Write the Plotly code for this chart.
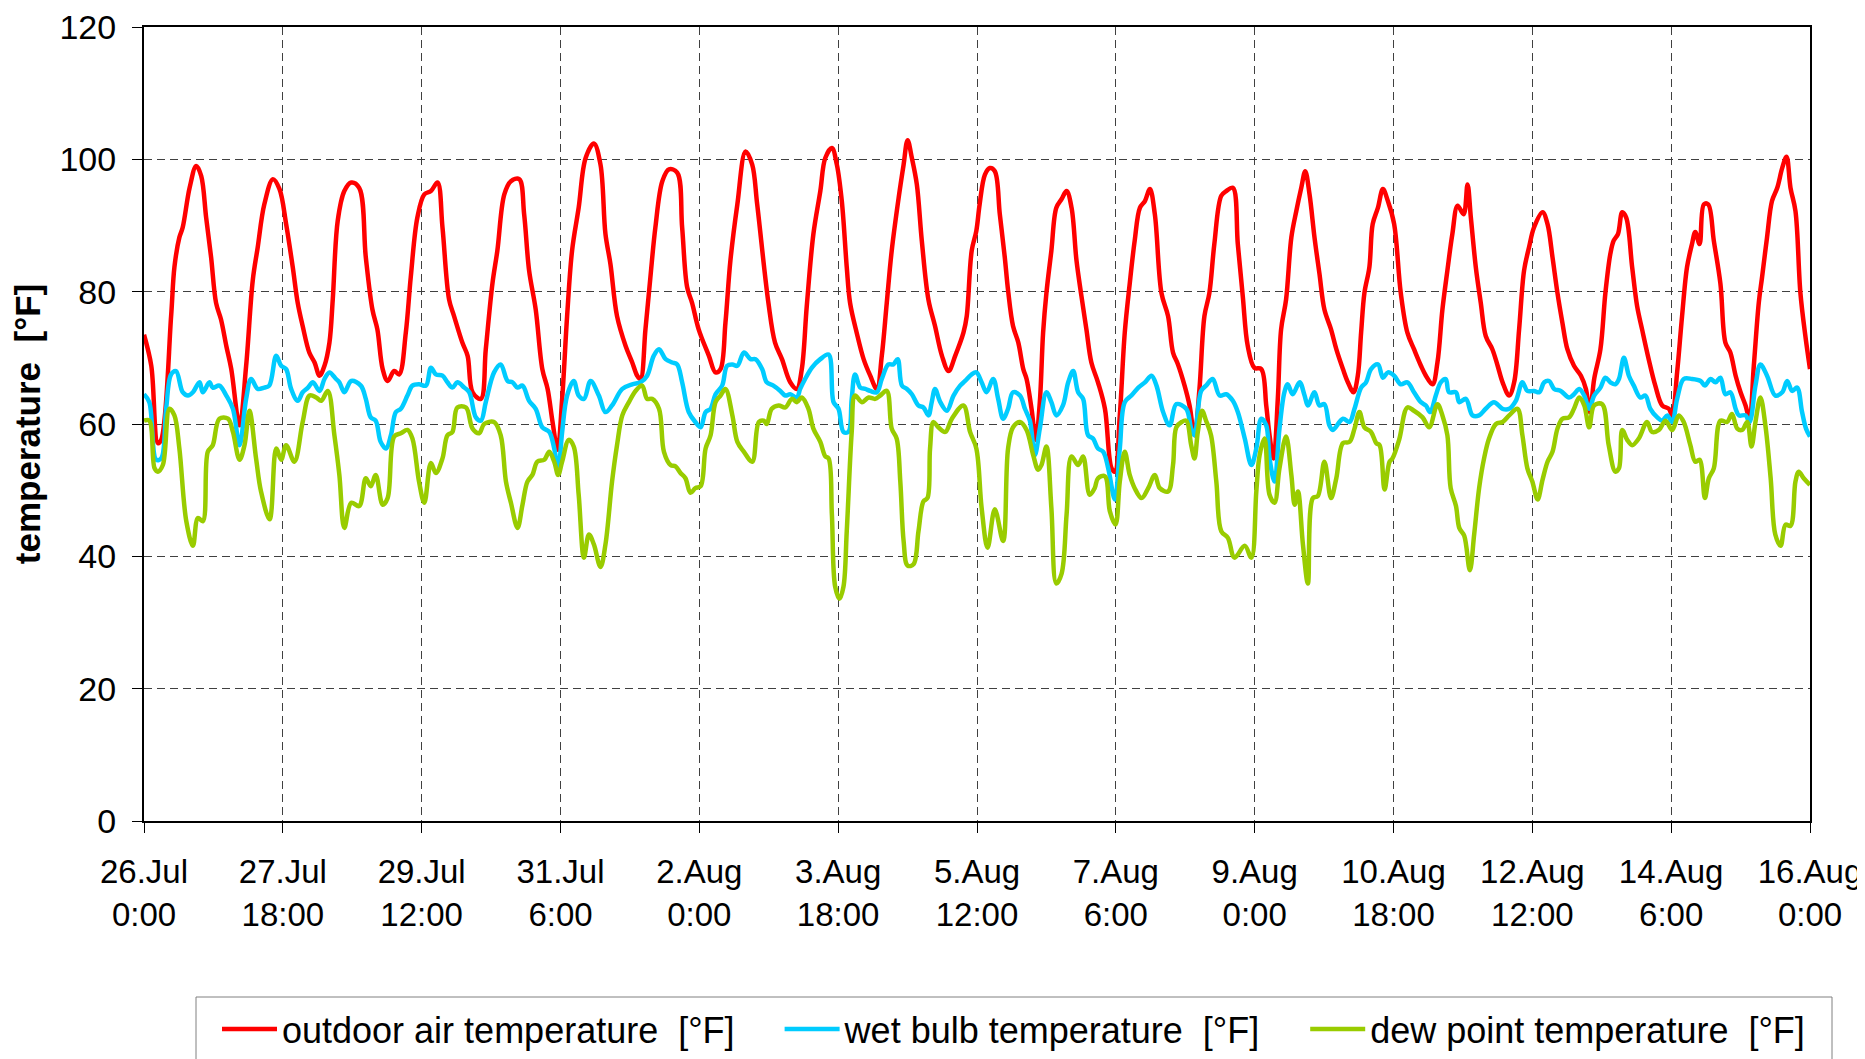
import datetime as dt
import plotly.graph_objects as go

# ---------------- data ----------------
base = dt.datetime(2007, 7, 26, 0, 0)

oat_hours = [0, 2.2, 4.2, 5.2, 8.2, 9.2, 10.7, 11.7, 13.8, 15.8, 17.3, 18.8, 20.3, 21.8, 23.3, 24.9, 26.4, 28.9, 30.9, 32.9, 34.4, 36.4, 39, 41, 43, 45, 46.5, 48, 50, 51.6, 53.1, 54.6, 56.1, 57.1, 58.6, 60.6, 62.7,
             65.1, 67.1, 69.1, 70.6, 72.2, 73.7, 75.7, 77.2, 79.2, 80.7, 82.7, 84.8, 86.8, 88.8, 90.3, 92.3, 93.8, 96.3, 97.9, 99.4, 101.9, 103.4, 105.4, 106.9, 109, 111, 113.5, 115, 116.5, 118.5, 120.5, 122.1, 123.6, 125.1,
             126.5, 128, 129.5, 131.5, 133.6, 136.1, 138.1, 139.6, 141.1, 143.1, 145.7, 147.7, 149.2, 150.2, 151.7, 153.2, 154.7, 156.8, 158.8, 161.3, 162.8, 164.3, 165.8, 167.8, 170.9, 172.9, 174.4, 175.9, 177.4, 179.5, 182, 184, 185.5,
             188.9, 190.9, 193, 195.5, 197.5, 199, 200.5, 202.5, 204.6, 206.1, 208.1, 209.6, 211.1, 212.6, 213.6, 215.6, 217.7, 219.7, 221.7, 223.2, 224.7, 226.2, 228.3, 229.8, 231, 232.3, 233.8, 235.3, 237.3, 239.3, 241.4, 243.4, 245.4, 247.9, 248.9, 250.4,
             251.8, 252.8, 254.4, 255.9, 257.4, 258.9, 260.4, 261.4, 262.9, 264.5, 266, 267, 268.5, 269.8, 271, 272, 273, 274.5, 276, 277.6, 279.1, 280.6, 282.1, 283.6, 285.1, 286.6, 288.6, 290.7, 292.7, 293.7, 295.2, 296.7, 298.2, 299.7, 301.3, 302.8, 304.3, 305.8, 307.8, 309.8, 311.3, 312.8,
             314.8, 316.3, 317.8, 319.3, 320.8, 322.3, 323.8, 325.9, 327.4, 329.4, 330.9, 332.4, 333.9, 335.9, 338, 339.5, 340.5, 341.7, 343, 344, 345.5, 347.1, 348.6, 350.1, 351.3, 352.6, 354.1, 355.6, 357.1, 359.1, 360.7, 362.7, 364.2, 365.9, 367.2, 368.2, 369.2, 370.7, 371.7, 373.3, 374.8, 376.3,
             378.2, 380.2, 382.2, 384.2, 386.3, 387.8, 389.8, 391.3, 392.8, 394.3, 395.8, 397.4, 399.2, 400.4, 401.4, 402.9, 404.4, 405.9, 407.9, 409.5, 411, 413, 414.5, 416, 417.5, 419, 420.5, 423.1, 424.6, 426.1, 427.6, 429.1, 430.6, 432.6, 434.7, 436.2, 437.4, 438.7,
             440.6, 442.1, 443.6, 444.6, 445.9, 447.2, 448.4, 450.2, 451.7, 453.2, 455.2, 457.2, 459.3, 461.3, 462.3, 463.8, 465.3, 466.8, 468.3, 469.3, 470.6, 471.9, 473.2, 474.9, 476.9, 478.4, 479.9, 481.5, 483, 484.5, 485.7, 487, 488.5, 489.5, 491, 492.5, 494.1, 495.6, 496.9, 498.1, 499.6, 501.1, 502.6, 504]
oat_temp = [73.5, 68.8, 57.1, 57.6, 76.3, 83.7, 88.2, 89.7, 95.7, 99, 97.5, 91.2, 85.2, 78.3, 75.8, 71.8, 68.3, 59.8, 68.8, 81.7, 86.7, 93.2, 97, 95.5, 90.2, 83.7, 78.3, 74.8, 70.8, 69.3, 67.3, 68.8, 72.3, 78.8, 90.7, 95.2, 96.5,
            95.7, 85.2, 77.3, 74.3, 68.3, 66.5, 68, 67.5, 73.8, 82.2, 91.2, 94.7, 95.2, 96.5, 89.7, 78.8, 76.3, 72.3, 70.3, 64.8, 63.8, 71.3, 81.2, 86.2, 94.7, 96.7, 97, 91.7, 83.2, 77.3, 68.3, 65.3, 60.3, 56.1,
            63.8, 76.3, 86.2, 92.7, 100.2, 102.4, 99.2, 88.7, 84.2, 76.3, 71.8, 69.3, 67.3, 66.8, 74.3, 82.2, 89.7, 96.7, 98.5, 98, 89.7, 80.7, 78.3, 74.3, 70.3, 67.8, 68.3, 75.3, 84.7, 93.2, 101.2, 99.2, 93.2,
            78.3, 72.3, 69.8, 66.3, 65.3, 68.3, 77.8, 88.7, 95.2, 100.2, 101.7, 99.2, 93.7, 83.7, 78.3, 73.8, 69.8, 67.3, 65.3, 70.3, 78.3, 86.2, 94.2, 99.2, 102.9, 100.2, 96.2, 87.7, 78.8, 74.8, 70.3, 68, 70.3, 73.8, 76.3, 86.2,
            89.2, 93.2, 97.7, 98.7, 98.2, 91.7, 85.2, 80.2, 74.8, 72.3, 68.3, 66.8, 62.3, 57.6, 63.3, 73.8, 79.8, 86.2, 92.7, 94, 95.2, 92.7, 84.7, 79.3, 74.3, 69.3, 66.3, 62.3, 53.3, 52.8, 61.3, 73.8, 81.2, 87.7, 92.7, 93.7, 95.5, 91.7, 79.8, 76.3, 70.8, 69,
            65.8, 62.8, 58.3, 65.3, 76.3, 79.8, 87.2, 94.5, 95.2, 95.7, 87.2, 79.3, 71.8, 68.5, 68.3, 62.8, 58.3, 54.8, 63.8, 74.3, 78.8, 88.2, 92.2, 95.7, 98.2, 94.7, 88.2, 82.7, 77.3, 74.3, 71.3, 68.3, 66.3, 64.8, 67.3, 73.8, 79.8, 83.7, 90.2, 92.7, 95.5, 93.7,
            90.2, 79.8, 73.8, 71.3, 68.8, 67.3, 66, 69.3, 77.3, 83.2, 88.7, 93, 91.7, 96.2, 91.2, 83.7, 78.3, 73.3, 71.3, 68.8, 66.3, 64.3, 66.3, 74.3, 83.2, 86.7, 89.7, 92, 90.2, 85.2, 79.8, 75.3, 71.3, 68.8, 67.3, 65.3, 61.8, 66.8,
            71.3, 79.8, 85.7, 87.7, 88.7, 92, 91.2, 83.7, 77.8, 74.3, 69.8, 65.8, 62.8, 62.3, 61.3, 67.8, 76.3, 83.7, 87.2, 89, 87.2, 93.2, 93.2, 87.7, 81.2, 72.3, 70.8, 67.3, 64.8, 62.8, 60.8, 68.8, 78.3, 82.2, 88.2, 93.7, 95.7, 98.7, 100.4, 95.7, 92.2, 79.8, 73.3, 68.3]

wb_hours = [0, 1.6, 3.7, 5.2, 6.7, 8.2, 9.7, 11.7, 13.3, 14.8, 16.8, 17.8, 19.8, 20.8, 22.8, 24.9, 26.9, 28.9, 30.9, 32.4, 34.4, 36.4, 37.9, 40, 41.5, 43, 44.5, 46.5, 48, 49.6, 51.1, 53.1, 54.6, 56.1, 58.1, 59.1, 60.6, 62.7,
            65.6, 67.1, 68.6, 70.1, 71.6, 73.2, 74.7, 76.2, 77.7, 79.7, 81.2, 83.2, 85.3, 86.8, 88.3, 90.3, 91.8, 93.3, 94.8, 96.9, 98.4, 100.4, 101.9, 103.4, 105.9, 107.9, 110, 111.5, 113, 114.5, 116.5, 118.5, 120.5, 122.6, 124.1, 125.3,
            126.5, 128, 130, 131.5, 133.1, 135.1, 137.6, 139.6, 141.6, 144.7, 147.7, 150.2, 152.2, 154.2, 155.8, 157.8, 159.8, 161.3, 162.8, 164.8, 166.8, 168.4, 169.9, 171.4, 172.9, 174.9, 176.4, 178, 179.5, 181.5, 183.5, 185, 187,
            188.4, 190.4, 192.5, 194, 195.5, 197.5, 198.5, 200, 202, 204.6, 207.1, 208.6, 210.1, 211.6, 213.1, 214.1, 215.1, 216.7, 218.2, 219.7, 221.7, 223.2, 225.2, 226.7, 228, 229.3, 230.8, 232.3, 234.3, 235.8, 237.3, 238.3, 239.3, 240.9, 242.9, 244.9, 246.9, 248.4, 250.4,
            251.8, 253.4, 254.9, 256.9, 258.4, 259.9, 261.4, 262.9, 265, 266.5, 268, 269.5, 271, 273, 274.5, 276, 278, 279.6, 281.1, 282.6, 284.1, 285.6, 287.1, 288.6, 290.2, 291.7, 293.7, 295.2, 296.7, 298.7, 300.8, 302.8, 304.8, 306.3, 308.3, 310.3, 312.3,
            315.3, 316.8, 317.8, 319.8, 321.3, 323.3, 325.4, 327.4, 329.4, 330.9, 333, 335, 336.5, 338, 339.5, 340.5, 342, 343.5, 345, 346, 347.5, 349.6, 351.1, 352.1, 354.1, 355.6, 357.1, 358.6, 359.6, 362.7, 364.7, 366.2, 368.2, 369.7, 371.2, 373.3, 374.8, 376.3,
            378.2, 380.2, 382.2, 384.2, 386.3, 387.8, 389.1, 390.8, 392.3, 393.8, 394.8, 396.9, 397.9, 399.9, 401.9, 403.9, 405.9, 408.4, 411, 413, 415, 417, 418.5, 420.5, 422.1, 423.6, 425.1, 426.6, 428.6, 431.1, 432.6, 434.2, 435.7, 437.2, 438.7,
            440.6, 442.1, 443.6, 445.1, 446.2, 447.7, 449.2, 450.7, 452.7, 454.2, 455.7, 457.8, 459.3, 460.8, 462.3, 463.8, 465.8, 468.3, 470.9, 472.2, 473.9, 475.4, 476.9, 478.4, 479.9, 481.5, 482.5, 484.5, 485.7, 487.5, 489, 491, 493.5, 495.6, 497.1, 498.6, 500.1, 501.6, 502.8, 504]
wb_temp = [64.5, 63.3, 54.6, 54.8, 62.3, 67.5, 68, 64.8, 64.3, 64.8, 66.3, 64.8, 66.3, 65.5, 65.8, 64.3, 62.3, 56.8, 63.8, 66.8, 65.3, 65.5, 65.8, 70.3, 68.8, 68.3, 65.3, 63.5, 64.8, 65.5, 66.3, 65, 66.8, 67.8, 66.8, 66.3, 64.8, 66.5,
           65.8, 63.8, 61, 60.5, 57.3, 56.3, 58.3, 61.8, 62.3, 64.3, 65.8, 66, 65.8, 68.5, 67.5, 67.3, 66.3, 65.5, 66.3, 65.5, 64.8, 61, 60.5, 63.3, 67.8, 69, 66.5, 66.3, 65.5, 65.8, 63.5, 62.3, 59.5, 58.8, 56.3, 53.1,
           58.8, 64.3, 66.5, 64.3, 63.8, 66.5, 64.3, 61.8, 62.8, 65.3, 66, 66.3, 67.3, 70.3, 71.3, 69.8, 69.3, 69, 66.3, 61.8, 60.3, 59.5, 61.8, 62.3, 64.5, 65.8, 68.8, 69, 68.8, 70.8, 69.8, 69.8, 68.3,
           66.3, 65.8, 65, 64.3, 64.5, 64, 65.3, 66.8, 68.5, 69.8, 70.5, 63.3, 62.3, 58.8, 58.8, 63.8, 67.5, 65.5, 65.3, 65, 64.8, 66.8, 69, 69, 69.8, 65.8, 65.3, 64.5, 62.8, 62.5, 61.3, 63.3, 65.3, 63.3, 62, 64.3, 65.8, 66.5, 67.5,
           67.8, 66.3, 64.8, 66.8, 63.8, 60.8, 62.3, 64.8, 64.3, 62.3, 60.5, 55.3, 59.3, 64.8, 63.3, 61.3, 62.8, 66.3, 68, 64.8, 63.8, 58.3, 57.8, 56.3, 55.8, 53.3, 48.6, 56.3, 63.3, 64.3, 65.5, 66.3, 67.3, 65.8, 61.8, 59.8, 63,
           62.3, 59.3, 58.3, 65, 65.8, 66.8, 64.3, 64.5, 63.5, 61.8, 57.8, 53.8, 56.3, 60.8, 59.8, 54.8, 51.3, 59.3, 64.8, 66, 64.5, 66.3, 64.3, 62.8, 64.8, 62.8, 63, 59.8, 59.1, 60.8, 60.3, 62.3, 65.5, 66.3, 68.3, 69, 67, 67.8,
           67.3, 66, 66.3, 64.8, 63.3, 62.8, 61.8, 64.3, 66.3, 66.8, 64.8, 64.8, 63.3, 63.8, 61.3, 61.3, 62.3, 63.3, 62.3, 62.3, 63.5, 66.3, 65, 65, 64.8, 66.3, 66.5, 65.3, 65, 64, 64.5, 65.3, 64.3, 62.3, 64.3,
           65.5, 67, 66.3, 66, 66.8, 70, 67.3, 65.8, 64, 64.3, 62.3, 61, 60.5, 61.3, 60.3, 63.8, 66.8, 66.8, 66.5, 65.8, 66.8, 66.3, 67, 64.5, 64.8, 62.3, 61.3, 61.3, 60.3, 65.8, 69, 67.3, 64.3, 64.8, 66.5, 65, 65.5, 61.8, 59.3, 58.1]

dp_hours = [0, 1.6, 3.2, 4.2, 5.7, 7.7, 9.2, 10.7, 12.8, 14.8, 16.3, 17.8, 19.3, 20.8, 22.8, 25.4, 26.9, 28.9, 30.4, 31.9, 33.9, 35.4, 38, 40, 41.5, 43, 45.5, 48, 50.1, 52.1, 53.6, 55.6, 57.6, 59.1, 60.6, 62.7,
            65.1, 67.1, 68.6, 70.1, 72.2, 73.7, 75.7, 77.7, 79.7, 81.2, 83.2, 84.8, 86.8, 88.3, 90.3, 91.8, 93.3, 94.8, 97.4, 99.4, 101.4, 102.9, 105.9, 107.9, 109.5, 111, 113, 114.5, 116, 117.5, 119, 121.1, 122.6, 124.1, 125.3,
            126.5, 128.5, 130, 131.5, 133.1, 134.6, 136.1, 138.1, 139.6, 141.6, 143.1, 144.7, 146.7, 148.7, 150.7, 152.2, 153.7, 155.8, 157.3, 159.3, 160.8, 162.3, 163.8, 165.3, 166.8, 168.4, 169.9, 171.4, 172.9, 174.4, 175.9, 178, 179.5, 181.5, 184, 186, 187.5,
            188.4, 189.9, 192, 194, 196, 197.5, 199, 201, 202.5, 204.6, 206.1, 207.1, 208.1, 209.1, 210.4, 211.6, 212.6, 214.1, 215.1, 217.2, 219.2, 221.2, 222.7, 224.7, 226.2, 227.7, 228.8, 229.8, 231, 232.8, 234.3, 235.8, 237, 237.8, 238.8, 240.3, 242.4, 244.4, 247.9, 249.9,
            251.8, 253.4, 255.2, 257.4, 259.9, 261.4, 262.9, 265, 267, 269, 270.5, 271.5, 273, 274.5, 276, 277.6, 279.1, 280.6, 282.6, 284.1, 286.1, 287.6, 288.6, 290.7, 292.2, 293.9, 295.2, 296.7, 298.2, 299.7, 301.8, 303.8, 305.8, 307.3, 309.8, 311.3, 312.3, 313.9,
            315.3, 316.8, 317.8, 318.8, 320.1, 321.3, 322.8, 324.4, 325.9, 327.9, 329.9, 333, 335, 336.5, 337.5, 339, 340.5, 342, 343.5, 345.5, 347.1, 348.1, 349.1, 350.6, 352.1, 353.6, 355.1, 357.1, 359.1, 360.7, 362.7, 364.7, 366.2, 367.7, 369.2, 371.2, 372.8, 373.8, 375.3, 376.8,
            377.7, 379.7, 382.2, 384.2, 386.8, 388.8, 391.3, 392.8, 394.3, 395.3, 396.9, 397.9, 399.4, 401.1, 402.4, 403.9, 405.4, 406.9, 409, 411, 413, 415.5, 417, 418.5, 420, 421.6, 423.1, 424.6, 426.1, 427.6, 429.1, 431.1, 432.6, 434.2, 435.7, 437.2, 438.7,
            441.1, 443.1, 445.1, 446.2, 447.2, 448.7, 450.2, 452.2, 454.7, 456.2, 458.3, 460.3, 462.3, 464.3, 465.8, 467.8, 469.3, 470.6, 472.2, 473.4, 474.9, 476.9, 478.9, 480.4, 482, 483.5, 485, 486.3, 487.5, 489, 490.5, 492.1, 493.5, 495.1, 496.6, 498.1, 499.6, 500.6, 502.1, 504]
dp_temp = [60.5, 60.5, 53.3, 52.8, 53.8, 62.3, 61.3, 56.3, 45.3, 41.6, 45.8, 45.3, 55.8, 56.8, 60.8, 60.8, 58.8, 54.6, 56.8, 62, 54.8, 49.8, 45.6, 56.3, 54.6, 56.8, 54.3, 60.3, 64.3, 64, 63.5, 65, 58.3, 52.3, 44.3, 48.1,
           47.6, 51.8, 50.6, 52.3, 47.8, 48.8, 58.1, 58.6, 59.1, 57.8, 51.3, 48.1, 54.1, 52.6, 54.8, 58.3, 58.8, 62.5, 62.5, 59.3, 58.6, 60, 60.3, 58.3, 51.3, 48.1, 44.3, 47.8, 51.3, 52.3, 54.3, 54.6, 55.8, 54.3, 52.3,
           54.3, 57.6, 56.6, 49.3, 39.8, 43.3, 41.8, 38.4, 41.8, 51.3, 56.8, 61.3, 63.3, 65, 65.8, 63.8, 63.8, 62.3, 55.8, 53.8, 53.6, 52.6, 51.8, 49.6, 50.3, 50.6, 56.3, 58.3, 63.3, 64.3, 65.3, 61.3, 57.3, 55.8, 54.3, 60.3, 60.5,
           60, 62.3, 62.8, 62.5, 63.8, 63.3, 64, 62.3, 59.3, 57.3, 55.1, 54.8, 46.3, 35.4, 33.6, 35.4, 43.8, 58.8, 64.3, 63.3, 64, 63.8, 64.3, 65, 59.3, 57.8, 51.3, 42.3, 38.6, 38.8, 43.8, 48.3, 48.8, 56.3, 60.3, 59.5, 58.8, 60.8, 62.8, 58.8,
           56.3, 47.3, 41.3, 47.1, 42.3, 56.3, 59.5, 60.3, 59.1, 55.3, 53.1, 53.8, 56.6, 47.3, 35.9, 37.4, 46.3, 55.1, 53.8, 55.1, 49.3, 50.3, 51.8, 52.1, 46.8, 44.8, 51.3, 55.8, 52.3, 50.3, 48.8, 50.3, 52.3, 50.3, 49.8, 53.8, 59.5, 60.3,
           60.5, 56.8, 54.8, 58.8, 62, 60.5, 58.3, 51.3, 43.8, 42.8, 39.8, 41.6, 39.8, 49.8, 55.3, 57.8, 49.3, 48.1, 53.3, 58.1, 52.3, 47.8, 49.8, 41.8, 35.9, 48.8, 49.1, 54.3, 48.8, 51.8, 57.1, 57.3, 59.3, 61.8, 59.5, 58.8, 57.1, 56.8, 50.1, 54.3,
           54.8, 57.6, 62.5, 62, 61, 59.5, 63, 61.3, 58.3, 50.3, 47.6, 44.3, 43.1, 37.9, 43.3, 50.3, 54.8, 57.8, 60, 60.3, 61.3, 62.3, 58.3, 53.3, 51.3, 48.6, 51.6, 54.3, 55.8, 59.3, 60.8, 61, 62.3, 64, 62.8, 59.5, 62.8,
           63, 56.8, 52.8, 53.3, 59.1, 57.6, 56.8, 57.8, 60.3, 58.8, 59.1, 60.5, 59.1, 61.3, 60.3, 56.8, 54.3, 54.6, 48.8, 51.8, 53.3, 60.5, 60.3, 61.5, 59.3, 59.1, 60.3, 56.6, 60.3, 64, 59.8, 51.8, 43.3, 41.6, 44.8, 44.6, 51.3, 52.8, 51.8, 50.8]

tick_hours = [0, 42, 84, 126, 168, 210, 252, 294, 336, 378, 420, 462, 504]
tick_labels = ["26.Jul<br>0:00", "27.Jul<br>18:00", "29.Jul<br>12:00", "31.Jul<br>6:00",
               "2.Aug<br>0:00", "3.Aug<br>18:00", "5.Aug<br>12:00", "7.Aug<br>6:00",
               "9.Aug<br>0:00", "10.Aug<br>18:00", "12.Aug<br>12:00", "14.Aug<br>6:00",
               "16.Aug<br>0:00"]

series_names = ["outdoor air temperature \u00a0[°F]",
                "wet bulb temperature \u00a0[°F]",
                "dew point temperature \u00a0[°F]"]
series_colors = ["#FF0000", "#00CCFF", "#99CC00"]

# ---------------- layout helpers ----------------
FONT = "Liberation Sans, Arial, sans-serif"
W, H = 1857, 1051          # page body has an 8 px margin
ML, MR, MT, MB = 136, 55, 19, 238
PW = W - ML - MR
PH = H - MT - MB
GAP = "\u00a0" * 4
END = "\u00a0" * 2


def to_time(hours):
    return [base + dt.timedelta(hours=h) for h in hours]


fig = go.Figure()
traces = [(oat_hours, oat_temp), (wb_hours, wb_temp), (dp_hours, dp_temp)]
for i, (hrs, vals) in enumerate(traces):
    suffix = GAP if i < 2 else END
    fig.add_trace(go.Scatter(x=to_time(hrs), y=vals, mode="lines",
                             name=series_names[i] + suffix,
                             line=dict(color=series_colors[i], width=4.5),
                             line_shape="spline"))

# legend frame
fx0, fx1, fy0, fy1 = 188, 1824, 989, 1060
fig.add_shape(type="rect", xref="paper", yref="paper",
              x0=(fx0 - ML) / PW, x1=(fx1 - ML) / PW,
              y0=(MT + PH - fy0) / PH, y1=(MT + PH - fy1) / PH,
              line=dict(color="#808080", width=1), fillcolor="rgba(0,0,0,0)")

fig.update_layout(
    width=W, height=H,
    margin=dict(l=ML, r=MR, t=MT, b=MB),
    paper_bgcolor="white", plot_bgcolor="white",
    font=dict(family=FONT, size=34, color="black"),
    showlegend=True,
    legend=dict(orientation="h", xref="container", yref="container",
                x=209 / W, xanchor="left", y=1 - 991 / H, yanchor="top",
                borderwidth=0, bgcolor="rgba(0,0,0,0)",
                font=dict(family=FONT, size=36, color="black"),
                itemwidth=55, traceorder="normal"),
)

fig.update_xaxes(
    type="date",
    range=[base, base + dt.timedelta(hours=504)],
    tickmode="array",
    tickvals=to_time(tick_hours),
    ticktext=tick_labels,
    ticks="outside", ticklen=10, tickwidth=1, tickcolor="black",
    showline=True, linecolor="black", linewidth=2, mirror=True,
    showgrid=True, gridcolor="#404040", gridwidth=1, griddash="8px,5px",
    zeroline=False, automargin=False, ticklabelstandoff=10,
    ticklabeloverflow="allow",
    tickfont=dict(family=FONT, size=33, color="black"),
)
fig.update_yaxes(
    range=[0, 120], tickmode="linear", tick0=0, dtick=20,
    ticks="outside", ticklen=10, tickwidth=1, tickcolor="black",
    showline=True, linecolor="black", linewidth=2, mirror=True,
    showgrid=True, gridcolor="#404040", gridwidth=1, griddash="8px,5px",
    zeroline=False, automargin=False,
    ticklabelstandoff=9, ticklabeloverflow="allow",
    tickfont=dict(family=FONT, size=34, color="black"),
    title=dict(text="temperature \u00a0[°F]", standoff=23,
               font=dict(family=FONT, size=35, color="black", weight="bold")),
)

fig.write_html("out.html")
